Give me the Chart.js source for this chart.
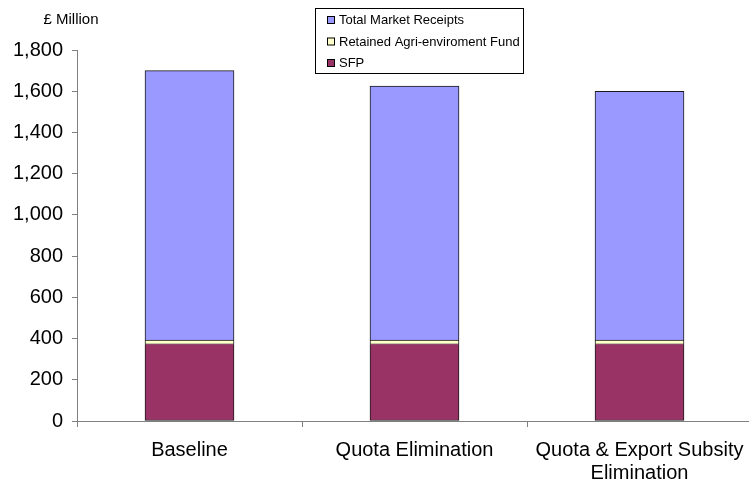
<!DOCTYPE html>
<html>
<head>
<meta charset="utf-8">
<script src="https://cdn.jsdelivr.net/npm/chart.js@4/dist/chart.umd.min.js"></script>
<style>
  html, body { margin: 0; padding: 0; background: #fff; overflow: hidden; }
  #wrap { position: relative; width: 752px; height: 485px; }
</style>
</head>
<body>
<div id="wrap"><canvas id="c" width="752" height="485"></canvas></div>
<script>
// Scenarios (categories); multi-line labels are arrays
const categories = ['Baseline', 'Quota Elimination', ['Quota & Export Subsity', 'Elimination']];

// £ Million, stacked from the bottom
const sfp = [372, 372, 372];
const agriFund = [21, 21, 21];
const marketReceipts = [1307, 1232, 1207];

const yTicks = [0, 200, 400, 600, 800, 1000, 1200, 1400, 1600, 1800];

const FONT = 'Arial, "Liberation Sans", sans-serif';

// Boxed legend listed top-down and the unit caption above the value axis
const annotations = {
  id: 'annotations',
  afterDraw(chart) {
    const ctx = chart.ctx;
    ctx.save();
    ctx.font = '15px ' + FONT;
    ctx.fillStyle = '#000';
    ctx.textBaseline = 'middle';
    ctx.textAlign = 'center';
    ctx.fillText('£ Million', 71, 20);

    const bx = 315.5, by = 8.5, bw = 208, bh = 65;
    ctx.strokeStyle = '#000';
    ctx.lineWidth = 1;
    ctx.strokeRect(bx, by, bw, bh);

    ctx.font = '13px ' + FONT;
    const items = chart.data.datasets.slice().reverse();
    ctx.textAlign = 'left';
    items.forEach((ds, i) => {
      const cy = 20 + i * 21.5;
      ctx.fillStyle = ds.backgroundColor;
      ctx.fillRect(327, cy - 4, 8, 8);
      ctx.strokeStyle = '#000';
      ctx.strokeRect(327.5, cy - 3.5, 7, 7);
      ctx.fillStyle = '#000';
      ctx.fillText(ds.label, 339, cy + 0.5);
    });
    ctx.restore();
  }
};

const barStyle = { borderColor: '#1a1a1a', borderWidth: 1, barThickness: 89 };

new Chart(document.getElementById('c'), {
  type: 'bar',
  data: {
    labels: categories,
    datasets: [
      Object.assign({ label: 'SFP', data: sfp, backgroundColor: '#993366', borderSkipped: 'top' }, barStyle),
      Object.assign({ label: 'Retained Agri-enviroment Fund', data: agriFund, backgroundColor: '#FFFFCC', borderSkipped: false }, barStyle),
      Object.assign({ label: 'Total Market Receipts', data: marketReceipts, backgroundColor: '#9999FF', borderSkipped: 'bottom' }, barStyle)
    ]
  },
  options: {
    responsive: false,
    animation: false,
    devicePixelRatio: 1,
    layout: { padding: { top: 50, right: 0, bottom: 0, left: 0 } },
    plugins: { legend: { display: false }, tooltip: { enabled: false } },
    scales: {
      x: {
        stacked: true,
        afterFit(s) { s.height = 64; s.paddingLeft = 0; s.paddingRight = 0; },
        border: { display: true, color: '#808080', width: 1 },
        grid: { display: true, offset: true, drawOnChartArea: false, tickLength: 6, color: '#808080' },
        ticks: { color: '#000', font: { family: FONT, size: 20, lineHeight: 1.15 }, padding: 12, maxRotation: 0, autoSkip: false }
      },
      y: {
        stacked: true,
        min: 0,
        max: 1800,
        afterFit(s) { s.width = 77; s.paddingTop = 0; s.paddingBottom = 0; },
        afterBuildTicks(s) { s.ticks = yTicks.map(v => ({ value: v })); },
        border: { display: true, color: '#808080', width: 1 },
        grid: { display: true, drawOnChartArea: false, tickLength: 5, color: '#808080' },
        ticks: {
          color: '#000',
          font: { family: FONT, size: 20 },
          padding: 9,
          callback: v => v.toLocaleString('en-US')
        }
      }
    }
  },
  plugins: [annotations]
});
</script>
</body>
</html>
